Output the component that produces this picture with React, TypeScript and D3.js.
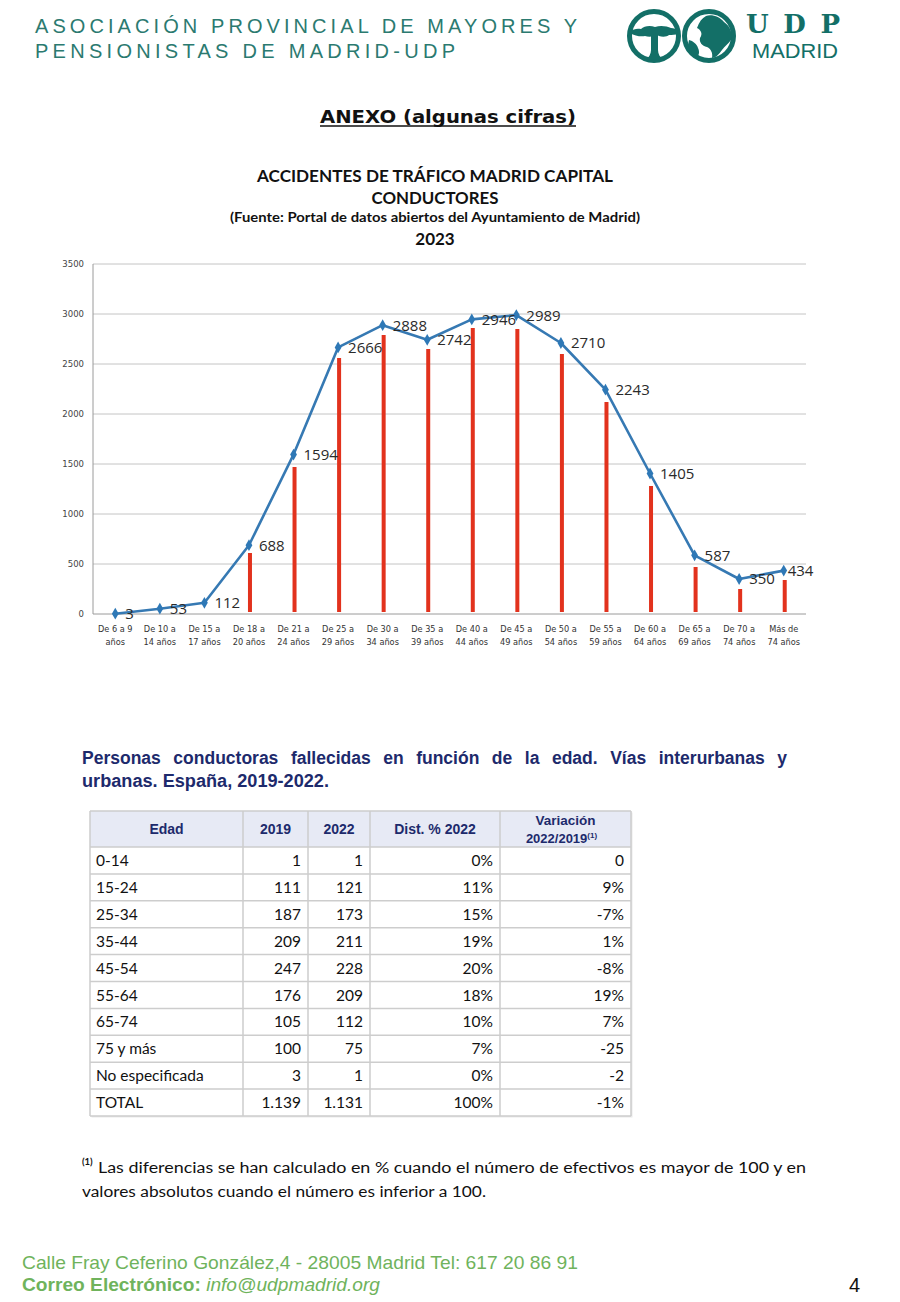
import React, { useLayoutEffect, useRef, useState } from "react";
import * as d3 from "d3";

// ---------- Chart data ----------
const ageLine1 = ["De 6 a 9", "De 10 a", "De 15 a", "De 18 a", "De 21 a", "De 25 a", "De 30 a", "De 35 a", "De 40 a", "De 45 a", "De 50 a", "De 55 a", "De 60 a", "De 65 a", "De 70 a", "Más de"];
const ageLine2 = ["años", "14 años", "17 años", "20 años", "24 años", "29 años", "34 años", "39 años", "44 años", "49 años", "54 años", "59 años", "64 años", "69 años", "74 años", "74 años"];
const conductores = [3, 53, 112, 688, 1594, 2666, 2888, 2742, 2946, 2989, 2710, 2243, 1405, 587, 350, 434];
const barras = [0, 0, 0, 610, 1470, 2560, 2790, 2650, 2860, 2850, 2600, 2120, 1280, 470, 250, 340];
const yTicks = [0, 500, 1000, 1500, 2000, 2500, 3000, 3500];

// ---------- Table data ----------
const tableHeaders = ["Edad", "2019", "2022", "Dist. % 2022", "Variación"];
const edades = ["0-14", "15-24", "25-34", "35-44", "45-54", "55-64", "65-74", "75 y más", "No especificada", "TOTAL"];
const v2019 = ["1", "111", "187", "209", "247", "176", "105", "100", "3", "1.139"];
const v2022 = ["1", "121", "173", "211", "228", "209", "112", "75", "1", "1.131"];
const dist2022 = ["0%", "11%", "15%", "19%", "20%", "18%", "10%", "7%", "0%", "100%"];
const variacion = ["0", "9%", "-7%", "1%", "-8%", "19%", "7%", "-25", "-2", "-1%"];

const TEAL = "#136f67";
const HEADTEAL = "#2b7a70";
const NAVY = "#1d2a6c";
const GREEN = "#6fb35c";

function Logo() {
  return (
    <g>
      <defs>
        <clipPath id="clipL"><circle cx={654} cy={36} r={24} /></clipPath>
        <clipPath id="clipR"><circle cx={709} cy={36} r={24} /></clipPath>
      </defs>
      <circle cx={654} cy={36} r={24.5} fill="none" stroke={TEAL} strokeWidth={5} />
      <circle cx={709} cy={36} r={24.5} fill="none" stroke={TEAL} strokeWidth={5} />
      <g clipPath="url(#clipL)" fill={TEAL}>
        <path d="M629,32 C633,29 637,28 641,29 C644,26 650,25 655,27 C660,25 667,26 671,28 C675,28 678,30 680,33 C677,35 673,35 669,35 C667,37 662,37 659,36 L657,35 C653,37 648,37 645,36 C641,37 634,36 629,32 Z" />
        <path d="M651,35 L658,35 L658,50 C658,55 661,58 665,62 L644,62 C648,58 651,55 651,50 Z" />
      </g>
      <g clipPath="url(#clipR)" fill={TEAL}>
        <path d="M706,16 C712,14 720,17 724,22 C730,26 733,33 731,40 C728,44 725,46 722,50 C719,54 716,58 712,58 C713,53 711,49 707,47 C702,46 699,42 700,38 C703,34 701,30 697,28 C699,22 702,18 706,16 Z" />
        <path d="M689,40 C693,41 697,44 698,48 C700,52 699,56 696,58 C692,55 689,50 688,45 Z" />
      </g>
      <text x={746} y={33} fontFamily="'DejaVu Serif', 'Liberation Serif', serif" fontWeight="bold" fontSize={26} fill={TEAL} textLength={94} lengthAdjust="spacing">UDP</text>
      <text x={752} y={58} fontFamily="'Liberation Sans Narrow', 'Liberation Sans', Arial, sans-serif" fontSize={21} fill={TEAL} textLength={86} lengthAdjust="spacingAndGlyphs">MADRID</text>
    </g>
  );
}

function Chart() {
  const left = 93, right = 806, top = 264, bottom = 614;
  const x = d3.scaleBand<number>().domain(d3.range(ageLine1.length)).range([left, right]);
  const y = d3.scaleLinear().domain([0, 3500]).range([bottom, top]);
  const cx = (i: number) => (x(i) as number) + x.bandwidth() / 2;
  const line = d3.line<number>().x((_, i) => cx(i)).y((d) => y(d));
  const diamond = d3.symbol().type(d3.symbolDiamond).size(40)();

  return (
    <g>
      {yTicks.map((t) => (
        <g key={t}>
          <line x1={left} x2={right} y1={y(t)} y2={y(t)} stroke={t === 0 ? "#9a9a9a" : "#c4c4c4"} strokeWidth={1} />
          <text x={84} y={y(t)} dy="0.35em" textAnchor="end" fontFamily="'DejaVu Sans', sans-serif" fontSize={8.5} fill="#444">{t}</text>
        </g>
      ))}
      <line x1={left} x2={left} y1={top} y2={bottom} stroke="#9a9a9a" strokeWidth={1} />
      {ageLine1.map((l, i) => (
        <text key={i} x={cx(i)} textAnchor="middle" fontFamily="'DejaVu Sans', sans-serif" fontSize={8.2} fill="#333">
          <tspan x={cx(i)} y={632}>{l}</tspan>
          <tspan x={cx(i)} y={645}>{ageLine2[i]}</tspan>
        </text>
      ))}
      {barras.map((v, i) =>
        v > 0 ? (
          <rect key={i} x={cx(i) - 2 + 1} y={y(v)} width={4} height={y(0) - 2 - y(v)} fill="#e2321d" />
        ) : null
      )}
      <path d={line(conductores) || ""} fill="none" stroke="#3679b3" strokeWidth={2.6} strokeLinejoin="round" />
      {conductores.map((v, i) => (
        <path key={i} d={diamond || ""} transform={`translate(${cx(i)},${y(v)})`} fill="#2e78b6" />
      ))}
      {conductores.map((v, i) => (
        <text key={i} x={cx(i) + (i === conductores.length - 1 ? 4 : 10)} y={y(v)} dy="0.36em" fontFamily="'Open Sans', sans-serif" fontSize={15} fill="#2a2a2a">{v}</text>
      ))}
    </g>
  );
}

function Table() {
  const cols = [90, 243, 308, 370, 500, 631];
  const top = 811, headH = 36, rowH = 26.9;
  const rows = [edades, v2019, v2022, dist2022, variacion];
  const n = edades.length;
  const bottom = top + headH + rowH * n;
  return (
    <g>
      <rect x={cols[0] + 1.5} y={top + 1.5} width={cols[5] - cols[0]} height={bottom - top} fill="#e9e9e9" />
      <rect x={cols[0]} y={top} width={cols[5] - cols[0]} height={headH} fill="#e7eaf5" />
      <rect x={cols[0]} y={top + headH} width={cols[5] - cols[0]} height={bottom - top - headH} fill="#ffffff" />
      {tableHeaders.map((h, j) => {
        const mid = (cols[j] + cols[j + 1]) / 2;
        if (j === 4) {
          return (
            <text key={j} textAnchor="middle" fontFamily="'Liberation Sans', Arial, sans-serif" fontWeight="bold" fontSize={13.5} fill={NAVY}>
              <tspan x={mid} y={825}>{h}</tspan>
              <tspan x={mid - 4} y={843} fontSize={13}>2022/2019<tspan fontSize={8} dy={-5}>(1)</tspan></tspan>
            </text>
          );
        }
        return (
          <text key={j} x={mid} y={834} textAnchor="middle" fontFamily="'Liberation Sans', Arial, sans-serif" fontWeight="bold" fontSize={14} fill={NAVY}>{h}</text>
        );
      })}
      {d3.range(n).map((r) => (
        <g key={r}>
          {rows.map((col, j) => (
            <text key={j} x={j === 0 ? cols[0] + 6 : cols[j + 1] - 7} y={top + headH + rowH * r + rowH / 2} dy="0.36em" textAnchor={j === 0 ? "start" : "end"} fontFamily="Lato, 'Open Sans', sans-serif" fontSize={15.5} fill="#111">{col[r]}</text>
          ))}
        </g>
      ))}
      {d3.range(n + 1).map((r) => (
        <line key={r} x1={cols[0]} x2={cols[5]} y1={top + headH + rowH * r} y2={top + headH + rowH * r} stroke="#cdcdcd" strokeWidth={1.5} />
      ))}
      {cols.map((c, j) => (
        <line key={j} x1={c} x2={c} y1={top} y2={bottom} stroke="#cdcdcd" strokeWidth={1.5} />
      ))}
      <line x1={cols[0]} x2={cols[5]} y1={top} y2={top} stroke="#cdcdcd" strokeWidth={1.5} />
    </g>
  );
}

const headingLine1 = "Personas conductoras fallecidas en función de la edad. Vías interurbanas y";
const headingLine2 = "urbanas. España, 2019-2022.";

function JustifiedHeading() {
  const ref = useRef<SVGTextElement>(null);
  const [ws, setWs] = useState(0);
  const target = 705;
  useLayoutEffect(() => {
    if (!ref.current) return;
    const len = ref.current.getComputedTextLength() - ws * (headingLine1.split(" ").length - 1);
    const spaces = headingLine1.split(" ").length - 1;
    const next = Math.max(0, (target - len) / spaces);
    if (Math.abs(next - ws) > 0.05) setWs(next);
  }, [ws]);
  return (
    <g>
      <text ref={ref} x={82} y={764} fontFamily="'Liberation Sans', Arial, sans-serif" fontWeight="bold" fontSize={17.5} fill={NAVY} style={{ wordSpacing: `${ws}px` }}>{headingLine1}</text>
      <text x={82} y={787} fontFamily="'Liberation Sans', Arial, sans-serif" fontWeight="bold" fontSize={17.5} fill={NAVY} textLength={247} lengthAdjust="spacingAndGlyphs">{headingLine2}</text>
    </g>
  );
}

export default function App() {
  return (
    <svg width={900} height={1302} viewBox="0 0 900 1302" style={{ position: "absolute", left: 0, top: 0, background: "#fff" }}>
      <rect x={0} y={0} width={900} height={1302} fill="#ffffff" />
      {/* Header */}
      <text x={35} y={33} fontFamily="'Liberation Sans Narrow', 'Liberation Sans', Arial, sans-serif" fontSize={20} fill={HEADTEAL} textLength={542} lengthAdjust="spacing">ASOCIACIÓN PROVINCIAL DE MAYORES Y</text>
      <text x={35} y={58} fontFamily="'Liberation Sans Narrow', 'Liberation Sans', Arial, sans-serif" fontSize={20} fill={HEADTEAL} textLength={420} lengthAdjust="spacing">PENSIONISTAS DE MADRID-UDP</text>
      <Logo />

      {/* Anexo */}
      <text x={448} y={123} textAnchor="middle" fontFamily="'DejaVu Sans', Verdana, sans-serif" fontWeight="bold" fontSize={18} fill="#111" textLength={256} lengthAdjust="spacingAndGlyphs">ANEXO (algunas cifras)</text>
      <line x1={320} x2={576} y1={126} y2={126} stroke="#111" strokeWidth={1.5} />

      {/* Chart titles */}
      <text x={435} y={182} textAnchor="middle" fontFamily="Lato, 'Open Sans', sans-serif" fontWeight="bold" fontSize={17} fill="#111" textLength={356} lengthAdjust="spacingAndGlyphs">ACCIDENTES DE TRÁFICO MADRID CAPITAL</text>
      <text x={435} y={204} textAnchor="middle" fontFamily="Lato, 'Open Sans', sans-serif" fontWeight="bold" fontSize={17} fill="#111" textLength={127} lengthAdjust="spacingAndGlyphs">CONDUCTORES</text>
      <text x={435} y={222} textAnchor="middle" fontFamily="Lato, 'Open Sans', sans-serif" fontWeight="bold" fontSize={13.5} fill="#111" textLength={410} lengthAdjust="spacingAndGlyphs">(Fuente: Portal de datos abiertos del Ayuntamiento de Madrid)</text>
      <text x={435} y={245} textAnchor="middle" fontFamily="Lato, 'Open Sans', sans-serif" fontWeight="bold" fontSize={17} fill="#111">2023</text>

      <Chart />

      <JustifiedHeading />

      <Table />

      {/* Footnote */}
      <text x={82} y={1165} fontFamily="Lato, sans-serif" fontWeight="bold" fontSize={9.5} fill="#111">(1)</text>
      <text x={98} y={1173} fontFamily="Lato, 'Open Sans', sans-serif" fontSize={15.5} fill="#111" textLength={708} lengthAdjust="spacingAndGlyphs">Las diferencias se han calculado en % cuando el número de efectivos es mayor de 100 y en</text>
      <text x={82} y={1197} fontFamily="Lato, 'Open Sans', sans-serif" fontSize={15.5} fill="#111" textLength={404} lengthAdjust="spacingAndGlyphs">valores absolutos cuando el número es inferior a 100.</text>

      {/* Footer */}
      <text x={22} y={1269} fontFamily="'Liberation Sans Narrow', 'Liberation Sans', Arial, sans-serif" fontSize={19} fill={GREEN} textLength={556} lengthAdjust="spacingAndGlyphs">Calle Fray Ceferino González,4 - 28005 Madrid  Tel: 617 20 86 91</text>
      <text x={22} y={1291} fontFamily="'Liberation Sans Narrow', 'Liberation Sans', Arial, sans-serif" fontSize={19} fill={GREEN} textLength={358} lengthAdjust="spacingAndGlyphs">
        <tspan fontWeight="bold">Correo Electrónico:</tspan>
        <tspan fontStyle="italic"> info@udpmadrid.org</tspan>
      </text>
      <text x={849} y={1292} fontFamily="'Liberation Sans Narrow', 'Liberation Sans', Arial, sans-serif" fontSize={20} fill="#111">4</text>
    </svg>
  );
}
